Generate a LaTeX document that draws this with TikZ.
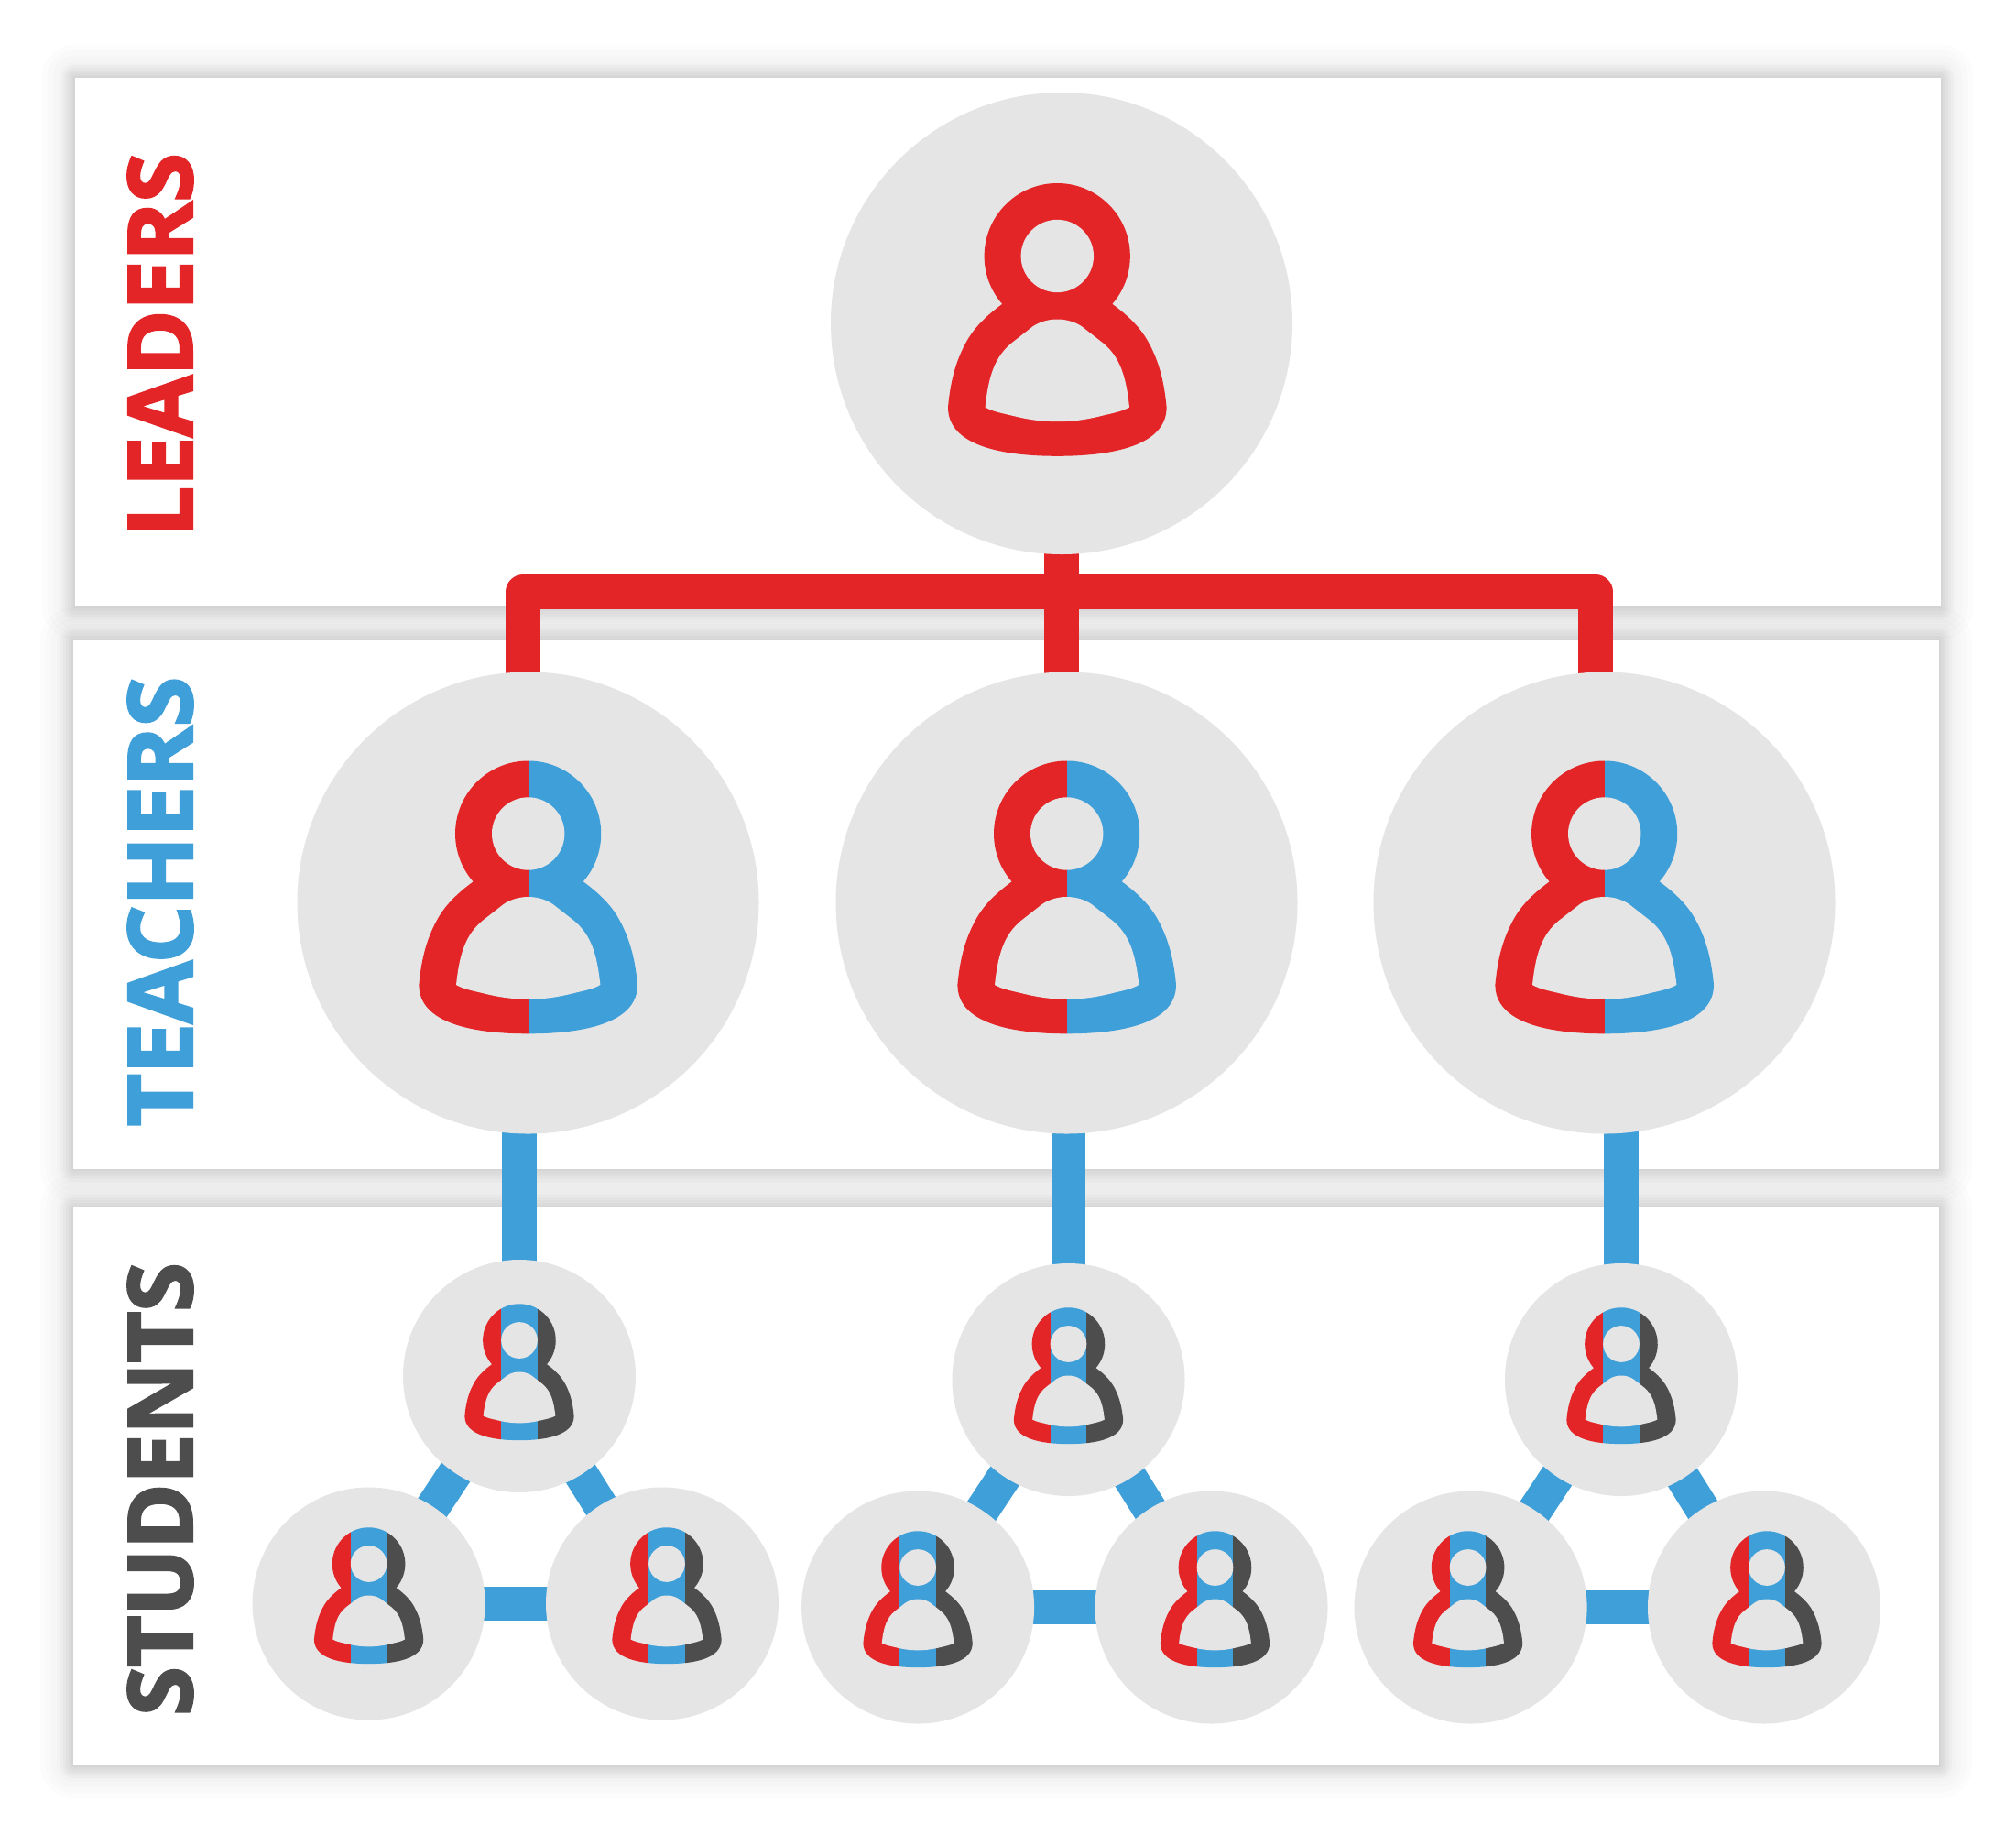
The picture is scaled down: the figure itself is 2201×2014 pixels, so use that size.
\documentclass[tikz,border=0pt]{standalone}
\usepackage{fontspec}
\usepackage{graphicx}
\newfontfamily\hv[BoldFeatures={FakeBold=3}]{Open Sans}
\usetikzlibrary{calc}
\definecolor{cred}{HTML}{E42527}
\definecolor{cblue}{HTML}{3F9FD9}
\definecolor{cdark}{HTML}{4D4D4D}
\definecolor{cgray}{HTML}{E5E5E5}
\pgfdeclarelayer{panels}
\pgfdeclarelayer{links}
\pgfsetlayers{panels,links,main}
\tikzset{
  bigcirc/.style={circle,fill=cgray,minimum size=252pt,inner sep=0pt,outer sep=0pt},
  smallcirc/.style={circle,fill=cgray,minimum size=127pt,inner sep=0pt,outer sep=0pt},
  panelbox/.style={fill=white},
  redlink/.style={draw=cred,line width=18.75pt,line join=round},
  bluelink/.style={draw=cblue,line width=18.75pt},
  vlabel/.style={rotate=90,inner sep=0pt,outer sep=0pt,font=\hv\bfseries},
}
\newcommand{\iconouter}{(-60,52.3) .. controls (-80,67) and (-92,80) .. (-100,95)
  .. controls (-112,117) and (-117,140) .. (-119.3,165)
  .. controls (-119.3,207) and (-60,218.3) .. (0,218.3)
  .. controls (60,218.3) and (119.3,207) .. (119.3,165)
  .. controls (117,140) and (112,117) .. (100,95)
  .. controls (92,80) and (80,67) .. (60,52.3)
  arc[start angle=41,end angle=-221,radius=79.6] -- cycle}
\newcommand{\iconholes}{
  \fill[cgray] (0,0) circle[radius=39.7];
  \fill[cgray] (0,69) .. controls (-9,69) and (-19,71.5) .. (-27,77)
   -- (-50,95) .. controls (-68,110) and (-75,130) .. (-78.7,165)
   .. controls (-70,170) and (-60,171.5) .. (-48,174.5)
   .. controls (-30,179) and (-15,180.7) .. (0,180.7)
   .. controls (15,180.7) and (30,179) .. (48,174.5)
   .. controls (60,171.5) and (70,170) .. (78.7,165)
   .. controls (75,130) and (68,110) .. (50,95)
   -- (27,77) .. controls (19,71.5) and (9,69) .. (0,69) -- cycle;
}
% #1 head position, #2 scale, #3 band fills
\newcommand{\personicon}[3]{%
  \begin{scope}[shift={#1},scale=#2]
    \begin{scope}
      \clip \iconouter;
      #3
    \end{scope}
    \iconholes
  \end{scope}}
\newcommand{\bandred}{\fill[cred] (-130,-90) rectangle (130,230);}
\newcommand{\bandtwo}{\fill[cred] (-130,-90) rectangle (0,230); \fill[cblue] (0,-90) rectangle (130,230);}
\newcommand{\bandthree}{\fill[cred] (-130,-90) rectangle (-39.4,230); \fill[cblue] (-39.4,-90) rectangle (39.4,230); \fill[cdark] (39.4,-90) rectangle (130,230);}
\newcommand{\panelshadow}[4]{%
  \foreach \k in {36,30,24,18}{%
    \fill[black,opacity=.01,rounded corners=\k*0.5pt] (#1-\k,#2-\k) rectangle (#3+\k,#4+\k);}
  \foreach \k in {14,11,8,5,2}{%
    \fill[black,opacity=.025,rounded corners=\k*0.5pt] (#1-\k,#2-\k) rectangle (#3+\k,#4+\k);}
  \fill[panelbox] (#1,#2) rectangle (#3,#4);}
% group: name prefix, dx, dy, blue connector top node, left icon dx, right icon dx
\newcommand{\studentgroup}[6]{%
  \node[smallcirc] (#1a) at (567+#2,1502+#3) {};
  \node[smallcirc] (#1b) at (402.6+#2,1750.5+#3) {};
  \node[smallcirc] (#1c) at (723+#2,1750.5+#3) {};
  \personicon{(567+#2,1463+#3)}{0.5}{\bandthree}
  \personicon{(402.6+#2+#5,1707+#3)}{0.5}{\bandthree}
  \personicon{(723+#2+#6,1707+#3)}{0.5}{\bandthree}
  \begin{pgfonlayer}{links}
    \draw[bluelink] (#1a.center) -- (#1b.center);
    \draw[bluelink] (#1a.center) -- (#1c.center);
    \draw[bluelink] (#1b.center) -- (#1c.center);
    \draw[bluelink] (#1a.center) -- (#1a.center |- #4.center);
  \end{pgfonlayer}}
\begin{document}
\begin{tikzpicture}[x=0.5pt,y=-0.5pt]
\useasboundingbox (0,0) rectangle (2201,2014);
\begin{pgfonlayer}{panels}
  \fill[white] (0,0) rectangle (2201,2014);
  \panelshadow{81.5}{84.5}{2118.5}{662}
  \panelshadow{80}{699}{2117}{1276}
  \panelshadow{80}{1318}{2117}{1927}
\end{pgfonlayer}
% labels
\node[vlabel,text=cred] (lLead) at (175,376.5) {\resizebox{209pt}{35pt}{LEADERS}};
\node[vlabel,text=cblue] (lTeach) at (175,984) {\resizebox{245pt}{35pt}{TEACHERS}};
\node[vlabel,text=cdark] (lStud) at (175,1625.5) {\resizebox{247pt}{35pt}{STUDENTS}};
% main nodes
\node[bigcirc] (lead) at (1159,353) {};
\node[bigcirc] (t1) at (576.5,985.5) {};
\node[bigcirc] (t2) at (1164.5,985.5) {};
\node[bigcirc] (t3) at (1751.5,985.5) {};
\personicon{(1154.3,279.5)}{1}{\bandred}
\personicon{(576.7,910)}{1}{\bandtwo}
\personicon{(1164.7,910)}{1}{\bandtwo}
\personicon{(1751.7,910)}{1}{\bandtwo}
\studentgroup{g}{0}{0}{t1}{0}{5}
\studentgroup{h}{599.5}{4}{t2}{0}{4}
\studentgroup{i}{1203}{4}{t3}{-3}{3}
\begin{pgfonlayer}{links}
  \coordinate (barL) at (571,646);
  \coordinate (barR) at (1742,646);
  \draw[redlink] (barL |- t1.center) -- (barL) -- (barR) -- (barR |- t3.center);
  \draw[redlink] (lead.center) -- (lead.center |- t2.center);
\end{pgfonlayer}
\end{tikzpicture}
\end{document}
